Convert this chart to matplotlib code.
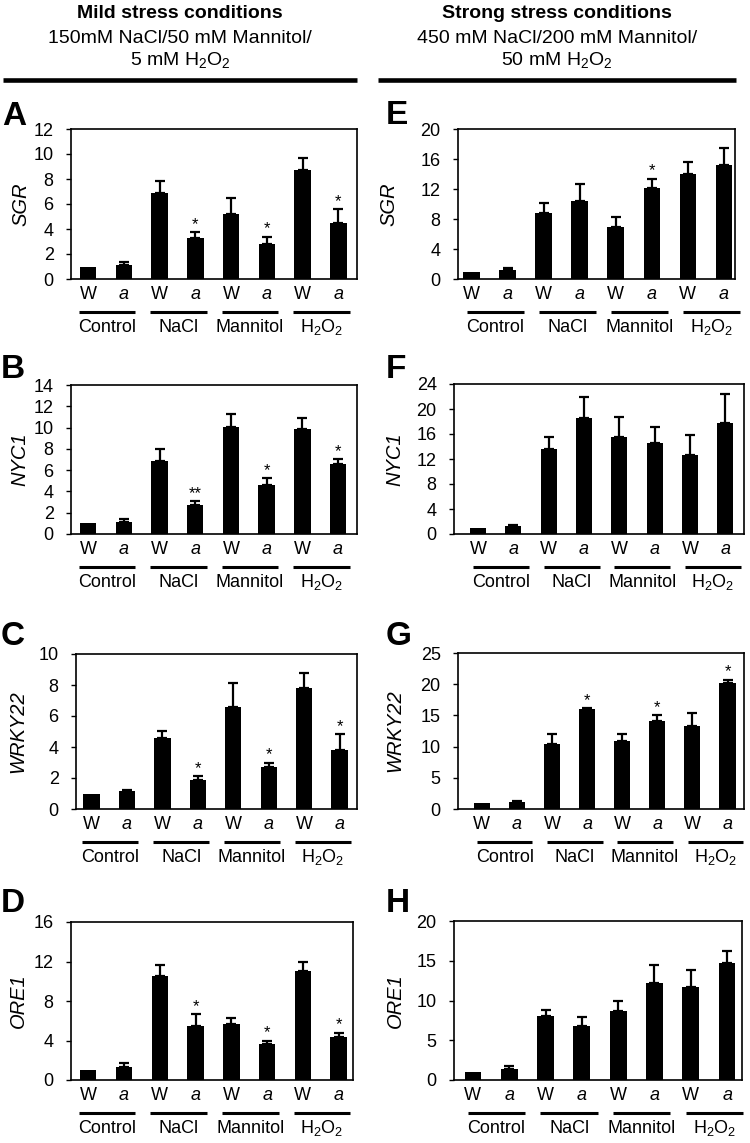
import matplotlib
matplotlib.use("Agg")
import matplotlib.pyplot as plt
from matplotlib.lines import Line2D
from matplotlib.transforms import offset_copy
import numpy as np

plt.rcParams["font.family"] = ["Liberation Sans", "DejaVu Sans"]
plt.rcParams["mathtext.fontset"] = "custom"
plt.rcParams["mathtext.rm"] = "Liberation Sans"
plt.rcParams["mathtext.it"] = "Liberation Sans:italic"

# ---- data (relative expression, W = wild type, a = mutant) ----
groups = ["Control", "NaCl", "Mannitol", "H$_2$O$_2$"]
genotypes = ["W", "a"]

mild_sgr = [1.0, 1.15, 6.9, 3.25, 5.2, 2.8, 8.7, 4.5]
mild_sgr_err = [0.0, 0.25, 0.95, 0.5, 1.3, 0.6, 0.95, 1.1]
mild_sgr_sig = ["", "", "", "*", "", "*", "", "*"]

mild_nyc1 = [1.0, 1.15, 6.9, 2.7, 10.1, 4.65, 9.85, 6.55]
mild_nyc1_err = [0.0, 0.28, 1.1, 0.37, 1.15, 0.6, 1.06, 0.5]
mild_nyc1_sig = ["", "", "", "**", "", "*", "", "*"]

mild_wrky22 = [1.0, 1.13, 4.58, 1.9, 6.6, 2.68, 7.82, 3.8]
mild_wrky22_err = [0.0, 0.07, 0.43, 0.2, 1.5, 0.32, 0.97, 1.02]
mild_wrky22_sig = ["", "", "", "*", "", "*", "", "*"]

mild_ore1 = [1.0, 1.35, 10.5, 5.5, 5.7, 3.6, 11.0, 4.4]
mild_ore1_err = [0.0, 0.33, 1.18, 1.18, 0.6, 0.4, 0.95, 0.4]
mild_ore1_sig = ["", "", "", "*", "", "*", "", "*"]

strong_sgr = [1.0, 1.25, 8.75, 10.45, 6.95, 12.2, 14.0, 15.2]
strong_sgr_err = [0.0, 0.2, 1.45, 2.2, 1.3, 1.2, 1.6, 2.25]
strong_sgr_sig = ["", "", "", "", "", "*", "", ""]

strong_nyc1 = [1.0, 1.3, 13.6, 18.6, 15.5, 14.6, 12.7, 17.7]
strong_nyc1_err = [0.0, 0.16, 2.0, 3.3, 3.3, 2.5, 3.1, 4.7]
strong_nyc1_sig = ["", "", "", "", "", "", "", ""]

strong_wrky22 = [1.0, 1.2, 10.45, 15.95, 10.95, 14.05, 13.35, 20.15]
strong_wrky22_err = [0.0, 0.05, 1.5, 0.25, 1.0, 1.0, 2.05, 0.6]
strong_wrky22_sig = ["", "", "", "*", "", "*", "", "*"]

strong_ore1 = [1.0, 1.4, 8.0, 6.8, 8.7, 12.25, 11.7, 14.75]
strong_ore1_err = [0.0, 0.3, 0.85, 1.15, 1.2, 2.2, 2.15, 1.45]
strong_ore1_sig = ["", "", "", "", "", "", "", ""]

W, H = 750, 1143
fig = plt.figure(figsize=(W / 100, H / 100), dpi=100)


def fx(px):
    return px / W


def fy(py):
    return 1 - py / H


# letter, gene, values, errors, stars, ymax, ystep, (left, top, right, bottom) px, xlim, label x px, letter pos
panels = [
    ("A", "SGR", mild_sgr, mild_sgr_err, mild_sgr_sig, 12, 2, (71, 129, 357, 279), (-0.48, 7.52), 21, (2, 125)),
    ("B", "NYC1", mild_nyc1, mild_nyc1_err, mild_nyc1_sig, 14, 2, (71, 385, 357, 534), (-0.48, 7.53), 20, (1, 378)),
    ("C", "WRKY22", mild_wrky22, mild_wrky22_err, mild_wrky22_sig, 10, 2, (76, 654, 357, 809), (-0.44, 7.49), 18, (1, 645)),
    ("D", "ORE1", mild_ore1, mild_ore1_err, mild_ore1_sig, 16, 4, (71, 922, 353, 1080), (-0.48, 7.40), 18, (1, 912)),
    ("E", "SGR", strong_sgr, strong_sgr_err, strong_sgr_sig, 20, 4, (458, 129, 735, 279), (-0.38, 7.31), 389, (386, 124)),
    ("F", "NYC1", strong_nyc1, strong_nyc1_err, strong_nyc1_sig, 24, 4, (454, 384, 744, 534), (-0.68, 7.53), 395, (386, 378)),
    ("G", "WRKY22", strong_wrky22, strong_wrky22_err, strong_wrky22_sig, 25, 5, (458, 653, 744, 809), (-0.68, 7.47), 395, (386, 645)),
    ("H", "ORE1", strong_ore1, strong_ore1_err, strong_ore1_sig, 20, 5, (454, 921, 742, 1080), (-0.52, 7.41), 395, (386, 912)),
]

x = np.arange(len(groups) * len(genotypes))
for letter, gene, vals, errs, sigs, ymax, ystep, box, xlim, lab_x, lpos in panels:
    l, t, r, b = box
    ax = fig.add_axes([fx(l), fy(b), (r - l) / W, (b - t) / H])
    vals = np.array(vals)
    errs = np.array(errs)
    ax.bar(x, vals, width=0.46, color="black", zorder=2)
    m = errs > 0
    ax.errorbar(x[m], vals[m], yerr=[np.zeros(m.sum()), errs[m]], fmt="none",
                ecolor="black", elinewidth=1.6, capsize=3.8, capthick=1.6, zorder=3)
    for xi, v, e, s in zip(x, vals, errs, sigs):
        if s:
            ax.text(xi, v + e, s, ha="center", va="bottom", fontsize=12)
    ax.set_xlim(*xlim)
    ax.set_ylim(0, ymax)
    ax.set_yticks(np.arange(0, ymax + 0.1, ystep))
    ax.set_xticks(x)
    ax.set_xticklabels(genotypes * len(groups))
    for lbl in ax.get_xticklabels()[1::2]:
        lbl.set_style("italic")
    ax.tick_params(axis="y", direction="out", length=3.5, width=1, pad=9, labelsize=13)
    ax.tick_params(axis="x", length=0, pad=5, labelsize=13)
    for sp in ax.spines.values():
        sp.set_linewidth(1.2)

    dx = 0.03 if l < 375 else 0.15
    line_tr = offset_copy(ax.get_xaxis_transform(), fig=fig, y=-33, units="dots")
    text_tr = offset_copy(ax.get_xaxis_transform(), fig=fig, y=-53, units="dots")
    for gi, g in enumerate(groups):
        c = gi * 2 + 0.5 + dx
        ax.plot([c - 0.79, c + 0.79], [0, 0], color="black", lw=2.2,
                transform=line_tr, clip_on=False, solid_capstyle="butt")
        ax.text(c, 0, g, ha="center", va="baseline", fontsize=13, transform=text_tr)

    fig.text(fx(lab_x), fy((t + b) / 2), gene, rotation=90, ha="center", va="center",
             fontsize=14.5, style="italic")
    fig.text(fx(lpos[0]), fy(lpos[1]), letter, ha="left", va="baseline",
             fontsize=24, fontweight="bold")

# column headers
headers = [
    (180, 3, 357, "Mild stress conditions", "150mM NaCl/50 mM Mannitol/", "5 mM H$_2$O$_2$"),
    (557, 378, 736, "Strong stress conditions", "450 mM NaCl/200 mM Mannitol/", "50 mM H$_2$O$_2$"),
]
for cx, x0, x1, title, line2, line3 in headers:
    fig.text(fx(cx), fy(18), title, ha="center", va="baseline", fontsize=14, fontweight="bold")
    fig.text(fx(cx), fy(43), line2, ha="center", va="baseline", fontsize=14)
    fig.text(fx(cx), fy(65), line3, ha="center", va="baseline", fontsize=14)
    fig.add_artist(Line2D([fx(x0), fx(x1)], [fy(80), fy(80)], color="black", lw=3.3,
                          transform=fig.transFigure, solid_capstyle="butt"))

fig.savefig("out.png", dpi=100)
